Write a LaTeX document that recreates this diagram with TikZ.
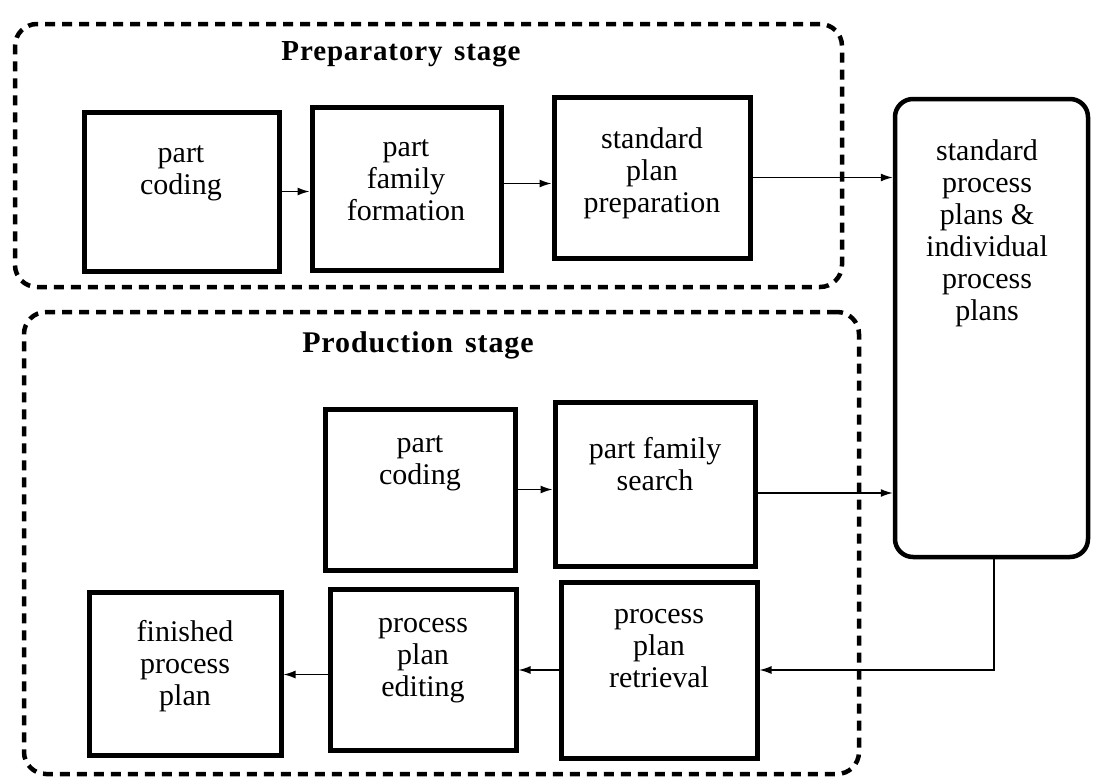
\documentclass[tikz,border=0pt]{standalone}
\usepackage{fontspec}
\setmainfont{Liberation Serif}
\newfontfamily\prepfont[LetterSpace=3]{Liberation Serif}
\newfontfamily\prodfont[LetterSpace=3]{Liberation Serif}
\usetikzlibrary{arrows.meta,calc}

% a node drawn as a box between two corners (x1,y1) and (x2,y2)
\newcommand\placebox[6]{%
  \node[#1, minimum width={#5-#3-4}, minimum height={#6-#4-4}]
    (#2) at ({(#3+#5)/2},{(#4+#6)/2}) {};}

\begin{document}
\begin{tikzpicture}[x=1pt,y=-1pt,
  procbox/.style={draw, line width=5pt, inner sep=0pt},
  planstore/.style={draw, line width=4.5pt, rounded corners=18pt, inner sep=0pt},
  stageframe/.style={draw, line width=4.5pt, dash pattern=on 10pt off 7pt,
                     rounded corners=22pt, inner sep=0pt},
  boxtext/.style={align=center, inner sep=0pt,
                  font=\fontsize{30}{32}\selectfont},
  preptitle/.style={inner sep=0pt, anchor=base,
                    font=\prepfont\bfseries\fontsize{29}{32}\selectfont},
  prodtitle/.style={inner sep=0pt, anchor=base,
                    font=\prodfont\bfseries\fontsize{30}{33}\selectfont},
  conn/.style={line width=1.4pt, -{Latex[length=12pt,width=8pt]}}]

\fill[white] (0,0) rectangle (1096,779);
\useasboundingbox (0,0) rectangle (1096,779);

% stage frames
\placebox{stageframe}{prep}{13}{22}{844}{289}
\placebox{stageframe}{prod}{22}{310}{861}{776}
\node[preptitle] (preptitle) at (401,60) {Preparatory\hspace{.4em}stage};
\node[prodtitle] (prodtitle) at (418,352) {Production\hspace{.4em}stage};

% preparatory stage
\placebox{procbox}{pcA}{82}{110}{281}{273}
\placebox{procbox}{pff}{310}{105}{503}{272}
\placebox{procbox}{spp}{552}{95}{752}{260}
\node[boxtext] (pcAt) at (181,173) {part\\coding};
\node[boxtext] (pfft) at (406,180) {part\\family\\formation};
\node[boxtext] (sppt) at (652,173) {standard\\plan\\preparation};

% plan store
\placebox{planstore}{store}{893}{97}{1090}{559}
\node[boxtext] (storet) at (987,233)
  {standard\\process\\plans \&\\individual\\process\\plans};

% production stage
\placebox{procbox}{pcB}{323}{407}{517}{572}
\placebox{procbox}{pfs}{553}{400}{757}{568}
\placebox{procbox}{fpp}{87}{590}{283}{757}
\placebox{procbox}{ppe}{328}{587}{518}{752}
\placebox{procbox}{ppr}{559}{580}{759}{760}
\node[boxtext] (pcBt) at (420,463) {part\\coding};
\node[boxtext] (pfst) at (655,464) {part family\\search};
\node[boxtext] (fppt) at (185,666) {finished\\process\\plan};
\node[boxtext] (ppet) at (423,661) {process\\plan\\editing};
\node[boxtext] (pprt) at (659,649) {process\\plan\\retrieval};

% connectors
\draw[conn] (pcA.east) -- (pcA.east -| pff.west);
\draw[conn] ([yshift=5pt]pff.east) -- ([yshift=5pt]pff.east -| spp.west);
\draw[conn] (spp.east) -- (spp.east -| store.west);
\draw[conn] (pcB.east) -- (pcB.east -| pfs.west);
\draw[conn] ([yshift=-9pt]pfs.east) -- ([yshift=-9pt]pfs.east -| store.west);
\coordinate (turn) at (994,670);
\draw[conn] (store.south -| turn) -- (turn) -- (turn -| ppr.east);
\draw[conn] (ppr.west) -- (ppr.west -| ppe.east);
\draw[conn] ([yshift=-5pt]ppe.west) -- ([yshift=-5pt]ppe.west -| fpp.east);

\end{tikzpicture}
\end{document}
